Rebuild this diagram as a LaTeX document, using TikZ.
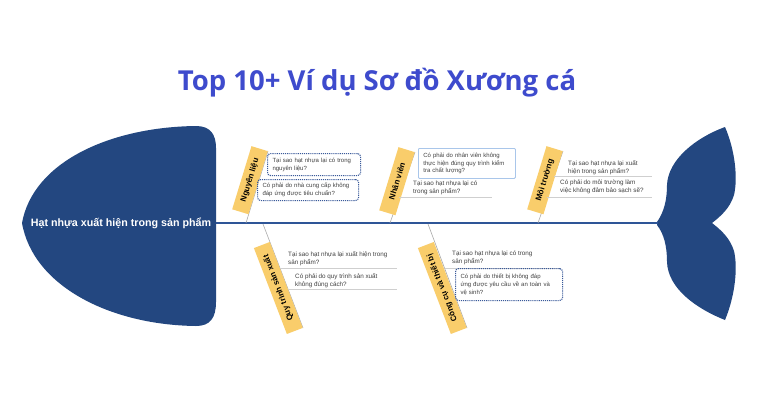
\documentclass[tikz,border=0pt]{standalone}
\usepackage{fontspec}
\setmainfont{Liberation Sans}
\newfontfamily\titlefont{Open Sans}
\usetikzlibrary{calc}
\definecolor{fishblue}{HTML}{234780}
\definecolor{spineblue}{HTML}{2E5597}
\definecolor{labelyellow}{HTML}{F9CD6B}
\definecolor{titleblue}{HTML}{3E4BCD}
\definecolor{dotblue}{HTML}{3A5A9A}
\definecolor{lightframe}{HTML}{A9C6EA}
\definecolor{qline}{HTML}{CFCFCF}
\definecolor{boneline}{HTML}{ABABAB}
\definecolor{qtext}{HTML}{404040}
\begin{document}
\begin{tikzpicture}[x=1pt,y=-1pt,
  catlabel/.style={fill=labelyellow, font=\fontsize{8}{9}\selectfont\bfseries, text=black, minimum height=17pt, inner sep=1pt, align=center},
  question/.style={font=\fontsize{6.3}{8}\selectfont, text=qtext, align=left, inner sep=0pt, anchor=north west},
  dotbox/.style={draw=dotblue, densely dotted, line width=1.1pt, rounded corners=3pt, inner xsep=5pt, inner ysep=3pt, anchor=north west, font=\fontsize{6}{7.8}\selectfont, text=qtext, align=left},
  solidbox/.style={draw=lightframe, line width=0.8pt, rounded corners=1pt, inner xsep=5pt, inner ysep=3pt, anchor=north west, font=\fontsize{6}{7.8}\selectfont, text=qtext, align=left},
  boneln/.style={draw=boneline, line width=0.6pt},
  underln/.style={draw=qline, line width=0.8pt}
]
\useasboundingbox (0,0) rectangle (768,418);
\fill[white] (0,0) rectangle (768,418);

% title
\node[font=\titlefont\fontsize{27.5}{32}\selectfont\bfseries, text=titleblue] (title) at (377,83) {Top 10+ Ví dụ Sơ đồ Xương cá};

% head
\fill[fishblue] (22,223) .. controls (33,162) and (110,127) .. (196,126)
  .. controls (210,126) and (216,134) .. (216,148) -- (216,302)
  .. controls (216,318) and (210,326) .. (196,326)
  .. controls (110,325) and (33,286) .. (22,223) -- cycle;
\node[font=\fontsize{10.7}{13}\selectfont\bfseries, text=white] (head) at (121,223) {Hạt nhựa xuất hiện trong sản phẩm};

% tail
\fill[fishblue] (657,222) .. controls (664,212) and (667,200) .. (667,185)
  .. controls (668,160) and (695,138) .. (725,127)
  .. controls (735,150) and (738,178) .. (734,195)
  .. controls (730,208) and (721,216) .. (712,223)
  .. controls (721,230) and (730,238) .. (734,251)
  .. controls (738,268) and (735,296) .. (725,320)
  .. controls (695,308) and (668,288) .. (667,262)
  .. controls (667,246) and (664,234) .. (657,225) -- cycle;

% spine
\coordinate (headR) at (216,223);
\coordinate (tailL) at (658,223);
\draw[spineblue, line width=2pt] (headR) -- (tailL);

% bones
\coordinate (S1) at (246,223); \coordinate (T1) at (268,151);
\coordinate (S2) at (390,223); \coordinate (T2) at (415,152);
\coordinate (S3) at (538,223); \coordinate (T3) at (563,151);
\coordinate (S4) at (263,224); \coordinate (B4) at (303,328);
\coordinate (S5) at (428,224); \coordinate (B5) at (467,328);
\draw[boneln] (S1) -- (T1);
\draw[boneln] (S2) -- (T2);
\draw[boneln] (S3) -- (T3);
\draw[boneln] (S4) -- (B4);
\draw[boneln] (S5) -- (B5);

% category labels
\node[catlabel, rotate=73, anchor=south east, minimum width=66pt] (L1) at (T1) {Nguyên liệu};
\node[catlabel, rotate=73, anchor=south east, minimum width=66pt] (L2) at (T2) {Nhân viên};
\node[catlabel, rotate=73, anchor=south east, minimum width=66pt] (L3) at (T3) {Môi trường};
\node[catlabel, rotate=111, anchor=south west, minimum width=92pt] (L4) at (B4) {Quy trình sản xuất};
\node[catlabel, rotate=111, anchor=south west, minimum width=92pt] (L5) at (B5) {Công cụ và thiết bị};

% branch 1: Nguyen lieu
\node[dotbox, minimum height=22pt, text width=83pt] (qa) at (267,153) {Tại sao hạt nhựa lại có trong\\nguyên liệu?};
\node[dotbox, minimum height=21pt, text width=91pt] (qb) at (257,179) {Có phải do nhà cung cấp không\\đáp ứng được tiêu chuẩn?};

% branch 2: Nhan vien
\node[solidbox, minimum height=30pt, text width=87pt] (qc) at (418,148) {Có phải do nhân viên không\\thực hiện đúng quy trình kiểm\\tra chất lượng?};
\node[question] (qd) at (413,181) {Tại sao hạt nhựa lại có\\trong sản phẩm?};
\coordinate (ud1) at (399,197); \coordinate (ud2) at (492,197);
\draw[underln] (ud1) -- (ud2);

% branch 3: Moi truong
\node[question] (qe) at (568,160) {Tại sao hạt nhựa lại xuất\\hiện trong sản phẩm?};
\coordinate (ue1) at (554,176); \coordinate (ue2) at (652,176);
\draw[underln] (ue1) -- (ue2);
\node[question] (qf) at (560,180) {Có phải do môi trường làm\\việc không đảm bảo sạch sẽ?};
\coordinate (uf1) at (547,197); \coordinate (uf2) at (652,197);
\draw[underln] (uf1) -- (uf2);

% branch 4: Quy trinh san xuat
\node[question] (qg) at (288,251) {Tại sao hạt nhựa lại xuất hiện trong\\sản phẩm?};
\coordinate (ug1) at (280,268); \coordinate (ug2) at (397,268);
\draw[underln] (ug1) -- (ug2);
\node[question] (qh) at (295,273) {Có phải do quy trình sản xuất\\không đúng cách?};
\coordinate (uh1) at (288,289); \coordinate (uh2) at (397,289);
\draw[underln] (uh1) -- (uh2);

% branch 5: Cong cu va thiet bi
\node[question] (qi) at (452,251) {Tại sao hạt nhựa lại có trong\\sản phẩm?};
\coordinate (ui1) at (445,268); \coordinate (ui2) at (560,268);
\draw[underln] (ui1) -- (ui2);
\node[dotbox, minimum height=32pt, text width=97pt] (qj) at (455,268) {Có phải do thiết bị không đáp\\ứng được yêu cầu về an toàn và\\vệ sinh?};
\end{tikzpicture}
\end{document}
